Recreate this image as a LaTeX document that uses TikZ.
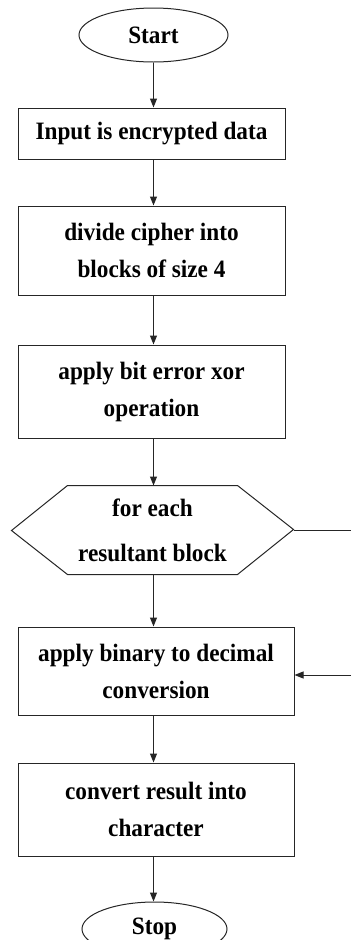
\documentclass[tikz,border=0pt]{standalone}
\usepackage{fontspec}
\setmainfont{Liberation Serif}[FakeStretch=0.93]
\usetikzlibrary{arrows.meta,positioning,shapes.geometric}

\begin{document}
\begin{tikzpicture}[x=1pt,y=1pt,
    line width=1pt, draw=black!85,
    every node/.style={font=\bfseries\fontsize{25}{37}\selectfont, align=center},
    term/.style={draw, ellipse, minimum width=149pt, minimum height=54pt, inner sep=0pt},
    proc/.style={draw, rectangle, minimum width=267pt, minimum height=89pt, inner sep=0pt},
    flow/.style={-{Triangle[length=9pt,width=7pt]}}
    ]
    \useasboundingbox (0,0) rectangle (351,-940);
    \coordinate (edge) at (351,0);
    \node[term] (start) at (153.5,-35) {Start};
    \node[proc, minimum height=51pt, below=45pt of start, xshift=-2pt] (input) {Input is encrypted data};
    \node[proc, below=46pt of input] (divide) {divide cipher into\\blocks of size 4};
    \node[proc, minimum height=93pt, below=49pt of divide] (xor) {apply bit error xor\\operation};
    \node[minimum width=169pt, minimum height=88pt, inner sep=0pt, below=47pt of xor, xshift=1pt] (each) {for each\\[8pt]resultant block};
    \draw (each.north west) -- (each.north east) -- ++(56,-44) -- (each.south east)
      -- (each.south west) -- ++(-56,44) -- cycle;
    \coordinate (eachtip) at ([xshift=56pt]each.east);
    \node[proc, minimum width=276pt, minimum height=88pt, below=52pt of each, xshift=3.5pt] (binary) {apply binary to decimal\\conversion};
    \node[proc, minimum width=276pt, minimum height=93pt, below=47pt of binary] (convert) {convert result into\\character};
    \node[term, minimum width=145pt, below=45pt of convert, xshift=-1.5pt] (stop) {Stop};
    % main flow
    \foreach \a/\b in {start/input, input/divide, divide/xor, xor/each, each/binary, binary/convert, convert/stop}
      \draw[flow] (\a.south -| start) -- (\b.north -| start);
    % loop back
    \draw (eachtip) -- (eachtip -| edge);
    \coordinate (back) at ([yshift=-4pt]binary.east);
    \draw[flow] (back -| edge) -- (back);
\end{tikzpicture}
\end{document}
